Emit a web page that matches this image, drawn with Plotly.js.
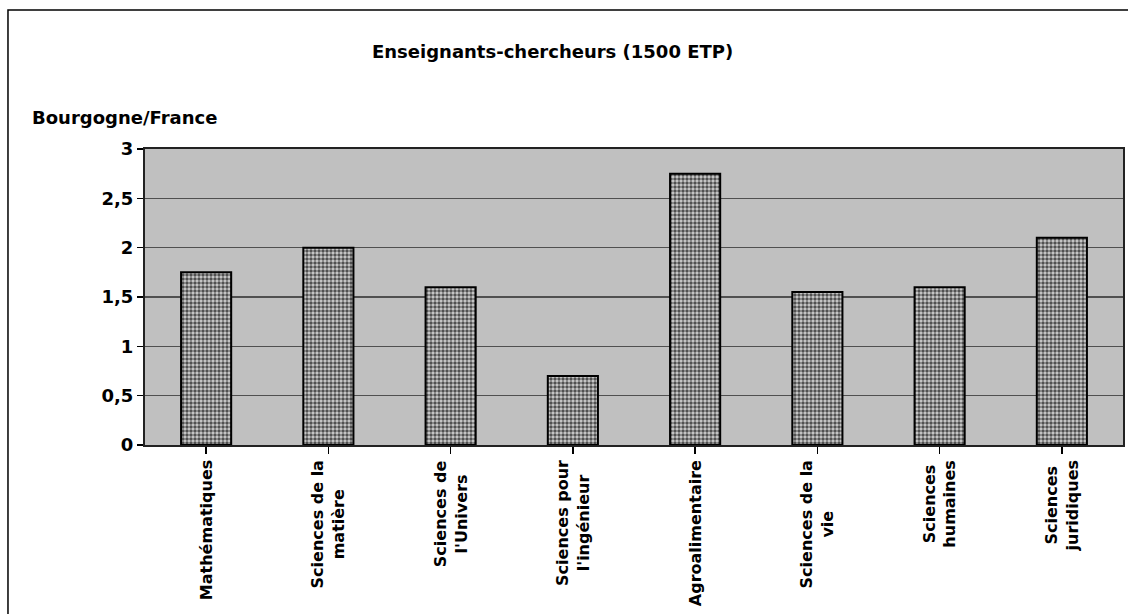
<!DOCTYPE html>
<html>
<head>
<meta charset="utf-8">
<script src="https://cdn.plot.ly/plotly-3.0.1.min.js"></script>
<style>
  html, body { margin: 0; padding: 0; background: #fff; overflow: hidden; }
  #chart { width: 1128px; height: 614px; }
</style>
</head>
<body>
<div id="chart"></div>
<script>
// Disciplines (label lines split with <br>)
const categories = [
  "Mathématiques",
  "Sciences de la<br>matière",
  "Sciences de<br>l'Univers",
  "Sciences pour<br>l'ingénieur",
  "Agroalimentaire",
  "Sciences de la<br>vie",
  "Sciences<br>humaines",
  "Sciences<br>juridiques"
];
// Ratio Bourgogne / France
const ratios = [1.75, 2.0, 1.6, 0.7, 2.75, 1.55, 1.6, 2.1];
const yTicks = [0, 0.5, 1, 1.5, 2, 2.5, 3];
const yTickText = ["0", "0,5", "1", "1,5", "2", "2,5", "3"];

const chartTitle = "Enseignants-chercheurs (1500 ETP)";
const yLabel = "Bourgogne/France";

const FONT = "'DejaVu Sans', sans-serif";
const boldFont = size => ({ family: FONT, size: size, color: "#000", weight: 700 });
const idx = categories.map((_, i) => i);

const trace = {
  type: "bar",
  x: idx,
  y: ratios,
  width: 0.41,
  marker: {
    color: "#d0d0d0",
    line: { color: "#000", width: 2 },
    pattern: { shape: ".", fgcolor: "#505050", bgcolor: "#d0d0d0", size: 4, solidity: 0.6 }
  },
  hoverinfo: "skip"
};

const labelAnnotations = categories.map((c, i) => ({
  text: c, x: i, xref: "x", y: -0.044, yref: "paper",
  xanchor: "center", yanchor: "top", textangle: -90, align: "center",
  showarrow: false, font: boldFont(16)
}));

const layout = {
  width: 1128, height: 614,
  margin: { l: 145, r: 5, t: 149, b: 169 },
  paper_bgcolor: "#fff",
  plot_bgcolor: "#c0c0c0",
  showlegend: false,
  separators: ", ",
  font: boldFont(18),
  xaxis: {
    range: [-0.5, 7.5],
    tickmode: "array", tickvals: idx,
    tickson: "boundaries",
    ticks: "outside", ticklen: 7, tickcolor: "#000", tickwidth: 1.5,
    showticklabels: false,
    showgrid: false, zeroline: false,
    showline: true, linecolor: "#222", linewidth: 2, mirror: true
  },
  yaxis: {
    range: [0, 3],
    tickmode: "array", tickvals: yTicks, ticktext: yTickText,
    ticks: "outside", ticklen: 6, tickcolor: "#000", tickwidth: 1.5,
    tickfont: boldFont(18),
    showgrid: true, gridcolor: "#505050", gridwidth: 1.5,
    zeroline: false,
    showline: true, linecolor: "#222", linewidth: 2, mirror: true
  },
  annotations: [
    { text: chartTitle, xref: "paper", yref: "paper", x: 0.4162, y: 1.331,
      xanchor: "center", yanchor: "middle", showarrow: false, font: boldFont(18) },
    { text: yLabel, xref: "paper", yref: "paper", x: -0.1176, y: 1.108,
      xanchor: "left", yanchor: "middle", showarrow: false, font: boldFont(18) }
  ].concat(labelAnnotations),
  shapes: [
    { type: "rect", xref: "paper", yref: "paper",
      x0: -0.1401, x1: 1.6, y0: -1, y1: 1.4696,
      line: { color: "#000", width: 1.5 }, fillcolor: "rgba(0,0,0,0)" }
  ]
};

Plotly.newPlot("chart", [trace], layout, { staticPlot: true, displayModeBar: false });
</script>
</body>
</html>
